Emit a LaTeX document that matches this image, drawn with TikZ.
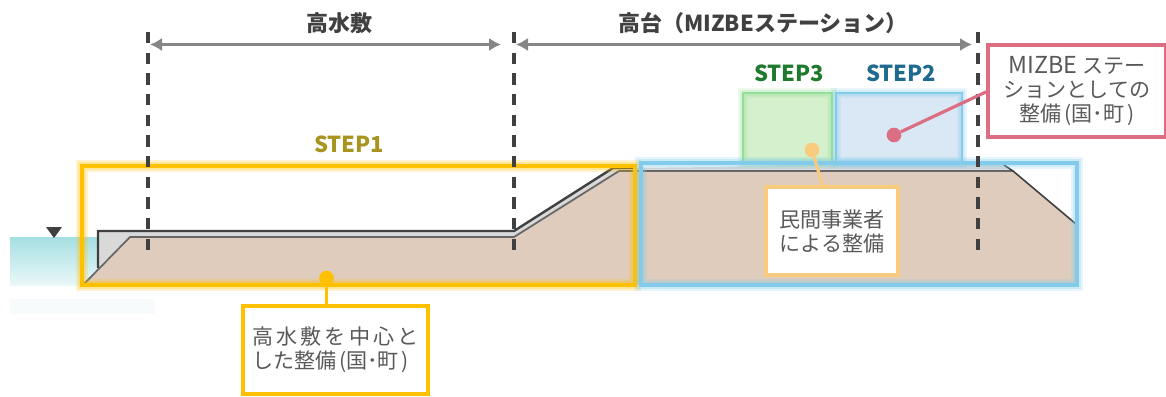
\documentclass[tikz,border=0pt]{standalone}
\usepackage{fontspec}
\setmainfont{Noto Sans CJK JP}
\newfontfamily\spacedfont[LetterSpace=15]{Noto Sans CJK JP}
\usetikzlibrary{arrows.meta}
\definecolor{land}{HTML}{DFCCBD}
\definecolor{layer}{HTML}{D9D9D9}
\definecolor{edge}{HTML}{404040}
\definecolor{edgeb}{HTML}{666666}
\definecolor{ygold}{HTML}{FFC000}
\definecolor{skyb}{HTML}{82CBEA}
\definecolor{grn}{HTML}{93DF98}
\definecolor{grnfill}{HTML}{D5F0CD}
\definecolor{bluefill}{HTML}{DAE8F6}
\definecolor{rose}{HTML}{DC6E84}
\definecolor{peach}{HTML}{F8CB7F}
\definecolor{txt}{HTML}{595959}
\definecolor{stepa}{HTML}{A8951F}
\definecolor{stepb}{HTML}{1F6A8F}
\definecolor{stepc}{HTML}{1F7A2E}
\definecolor{watertop}{HTML}{A6DFE3}
\definecolor{waterbot}{HTML}{EAF8F8}
\definecolor{waterref}{HTML}{F7FBFB}
\tikzset{
  x=0.75pt,y=-0.75pt,
  pxbox/.style 2 args={rectangle,inner sep=0pt,outer sep=0pt,minimum width=#1*0.75pt,minimum height=#2*0.75pt},
  glow/.style={draw=#1,line width=2.3pt,postaction={draw=#1,draw opacity=.2,line width=8.5pt},postaction={draw=#1,draw opacity=.25,line width=5.5pt}},
  softglow/.style={draw=#1,line width=2pt,postaction={draw=#1,draw opacity=.18,line width=7.5pt},postaction={draw=#1,draw opacity=.22,line width=5pt}},
  callout/.style={fill=white,draw=#1,line width=2.3pt,text=txt,font=\fontsize{15.8}{18}\selectfont},
  leader/.style={draw=#1,line width=2.4pt},
  dot/.style={circle,fill=#1,inner sep=0pt,minimum size=11pt},
  steplabel/.style={font=\fontsize{16.5}{18}\selectfont\bfseries,text=#1,inner sep=0pt},
  head/.style={font=\fontsize{16.5}{18}\selectfont\bfseries,text=edge,inner sep=0pt},
  span/.style={draw=gray!95,line width=2.8pt,{Latex[length=9pt,width=10pt]}-{Latex[length=9pt,width=10pt]}},
  guide/.style={draw=edge,line width=2.4pt,dash pattern=on 8.6pt off 6.9pt},
}
\begin{document}
\begin{tikzpicture}
\useasboundingbox (0,0) rectangle (1166,396);
% water
\shade[top color=watertop,bottom color=waterbot,draw=none] (10,237) rectangle (100,285);
\fill[waterref] (10,299) rectangle (155,314);
\fill[edge] (46,227) -- (62,227) -- (54,238) -- cycle;
% land
\fill[land] (83,285) -- (130,237) -- (514,237) -- (619,171) -- (1013,171) -- (1076,224) -- (1076,285) -- cycle;
% surface layer
\fill[layer] (98,231) -- (514,231) -- (613,168) -- (720,167) -- (838,163.5) -- (962,163.5) -- (1004,165) -- (1013,171) -- (619,171) -- (514,237) -- (130,237) -- (98,268) -- cycle;
\draw[edge,line width=1.8pt] (98,268) -- (98,231) -- (514,231) -- (613,168) -- (635,168);
\draw[edge,line width=1.8pt] (838,163.5) -- (962,163.5);
\draw[edgeb,line width=1.3pt] (83,285) -- (130,237) -- (514,237) -- (619,171) -- (1013,171);
\draw[edge,line width=1.2pt] (1004,165) -- (1013,171) -- (1076,224);
% upper boxes
\node[pxbox={89}{70},fill=grnfill,softglow=grn] (s3box) at (787.5,128) {};
\node[pxbox={126}{70},fill=bluefill,softglow=skyb] (s2box) at (899,128) {};
% zone boxes
\node[pxbox={553}{119},glow=ygold] (s1box) at (358.5,225.5) {};
\node[pxbox={436}{122},glow=skyb] (zone2) at (859,224) {};
% guides
\coordinate (g1a) at (148,32); \coordinate (g1b) at (148,254);
\coordinate (g2a) at (514,32); \coordinate (g2b) at (514,254);
\coordinate (g3a) at (978,32); \coordinate (g3b) at (978,254);
\draw[guide] (g1a) -- (g1b);
\draw[guide] (g2a) -- (g2b);
\draw[guide] (g3a) -- (g3b);
% spans
\coordinate (a1) at (150,44.5); \coordinate (a2) at (501,44.5);
\coordinate (a3) at (516,44.5); \coordinate (a4) at (972,44.5);
\draw[span] (a1) -- (a2);
\draw[span] (a3) -- (a4);
\node[head] (t1) at (339,23) {高水敷};
\node[head,anchor=west] (t2) at (618,23) {高台（MIZBEステーション）};
% step labels
\node[steplabel=stepa] (l1) at (349,144) {STEP1};
\node[steplabel=stepc] (l3) at (789,73) {STEP3};
\node[steplabel=stepb] (l2) at (901,73) {STEP2};
% callouts
\node[pxbox={185}{88},callout=ygold,align=left] (c1) at (335.5,350) {{\spacedfont 高水敷を中心と}\\した整備\kern2pt(国･町\kern2pt)};
\node[pxbox={132}{88},callout=peach,align=center] (c3) at (832,231) {民間事業者\\による整備};
\node[pxbox={178}{92},callout=rose,align=center] (c2) at (1077,91) {{\fontsize{17.5}{18}\selectfont MIZBE} ステー\\ションとしての\\整備\kern2pt(国･町\kern2pt)};
% markers
\node[dot=ygold] (d1) at (326.5,278) {};
\node[dot=peach] (d3) at (812,150) {};
\node[dot=rose] (d2) at (894,135) {};
\draw[leader=ygold] (d1) -- (c1.north -| d1);
\draw[leader=peach] (d3) -- (823,187);
\draw[leader=rose] (d2) -- (c2.west);
\end{tikzpicture}
\end{document}
